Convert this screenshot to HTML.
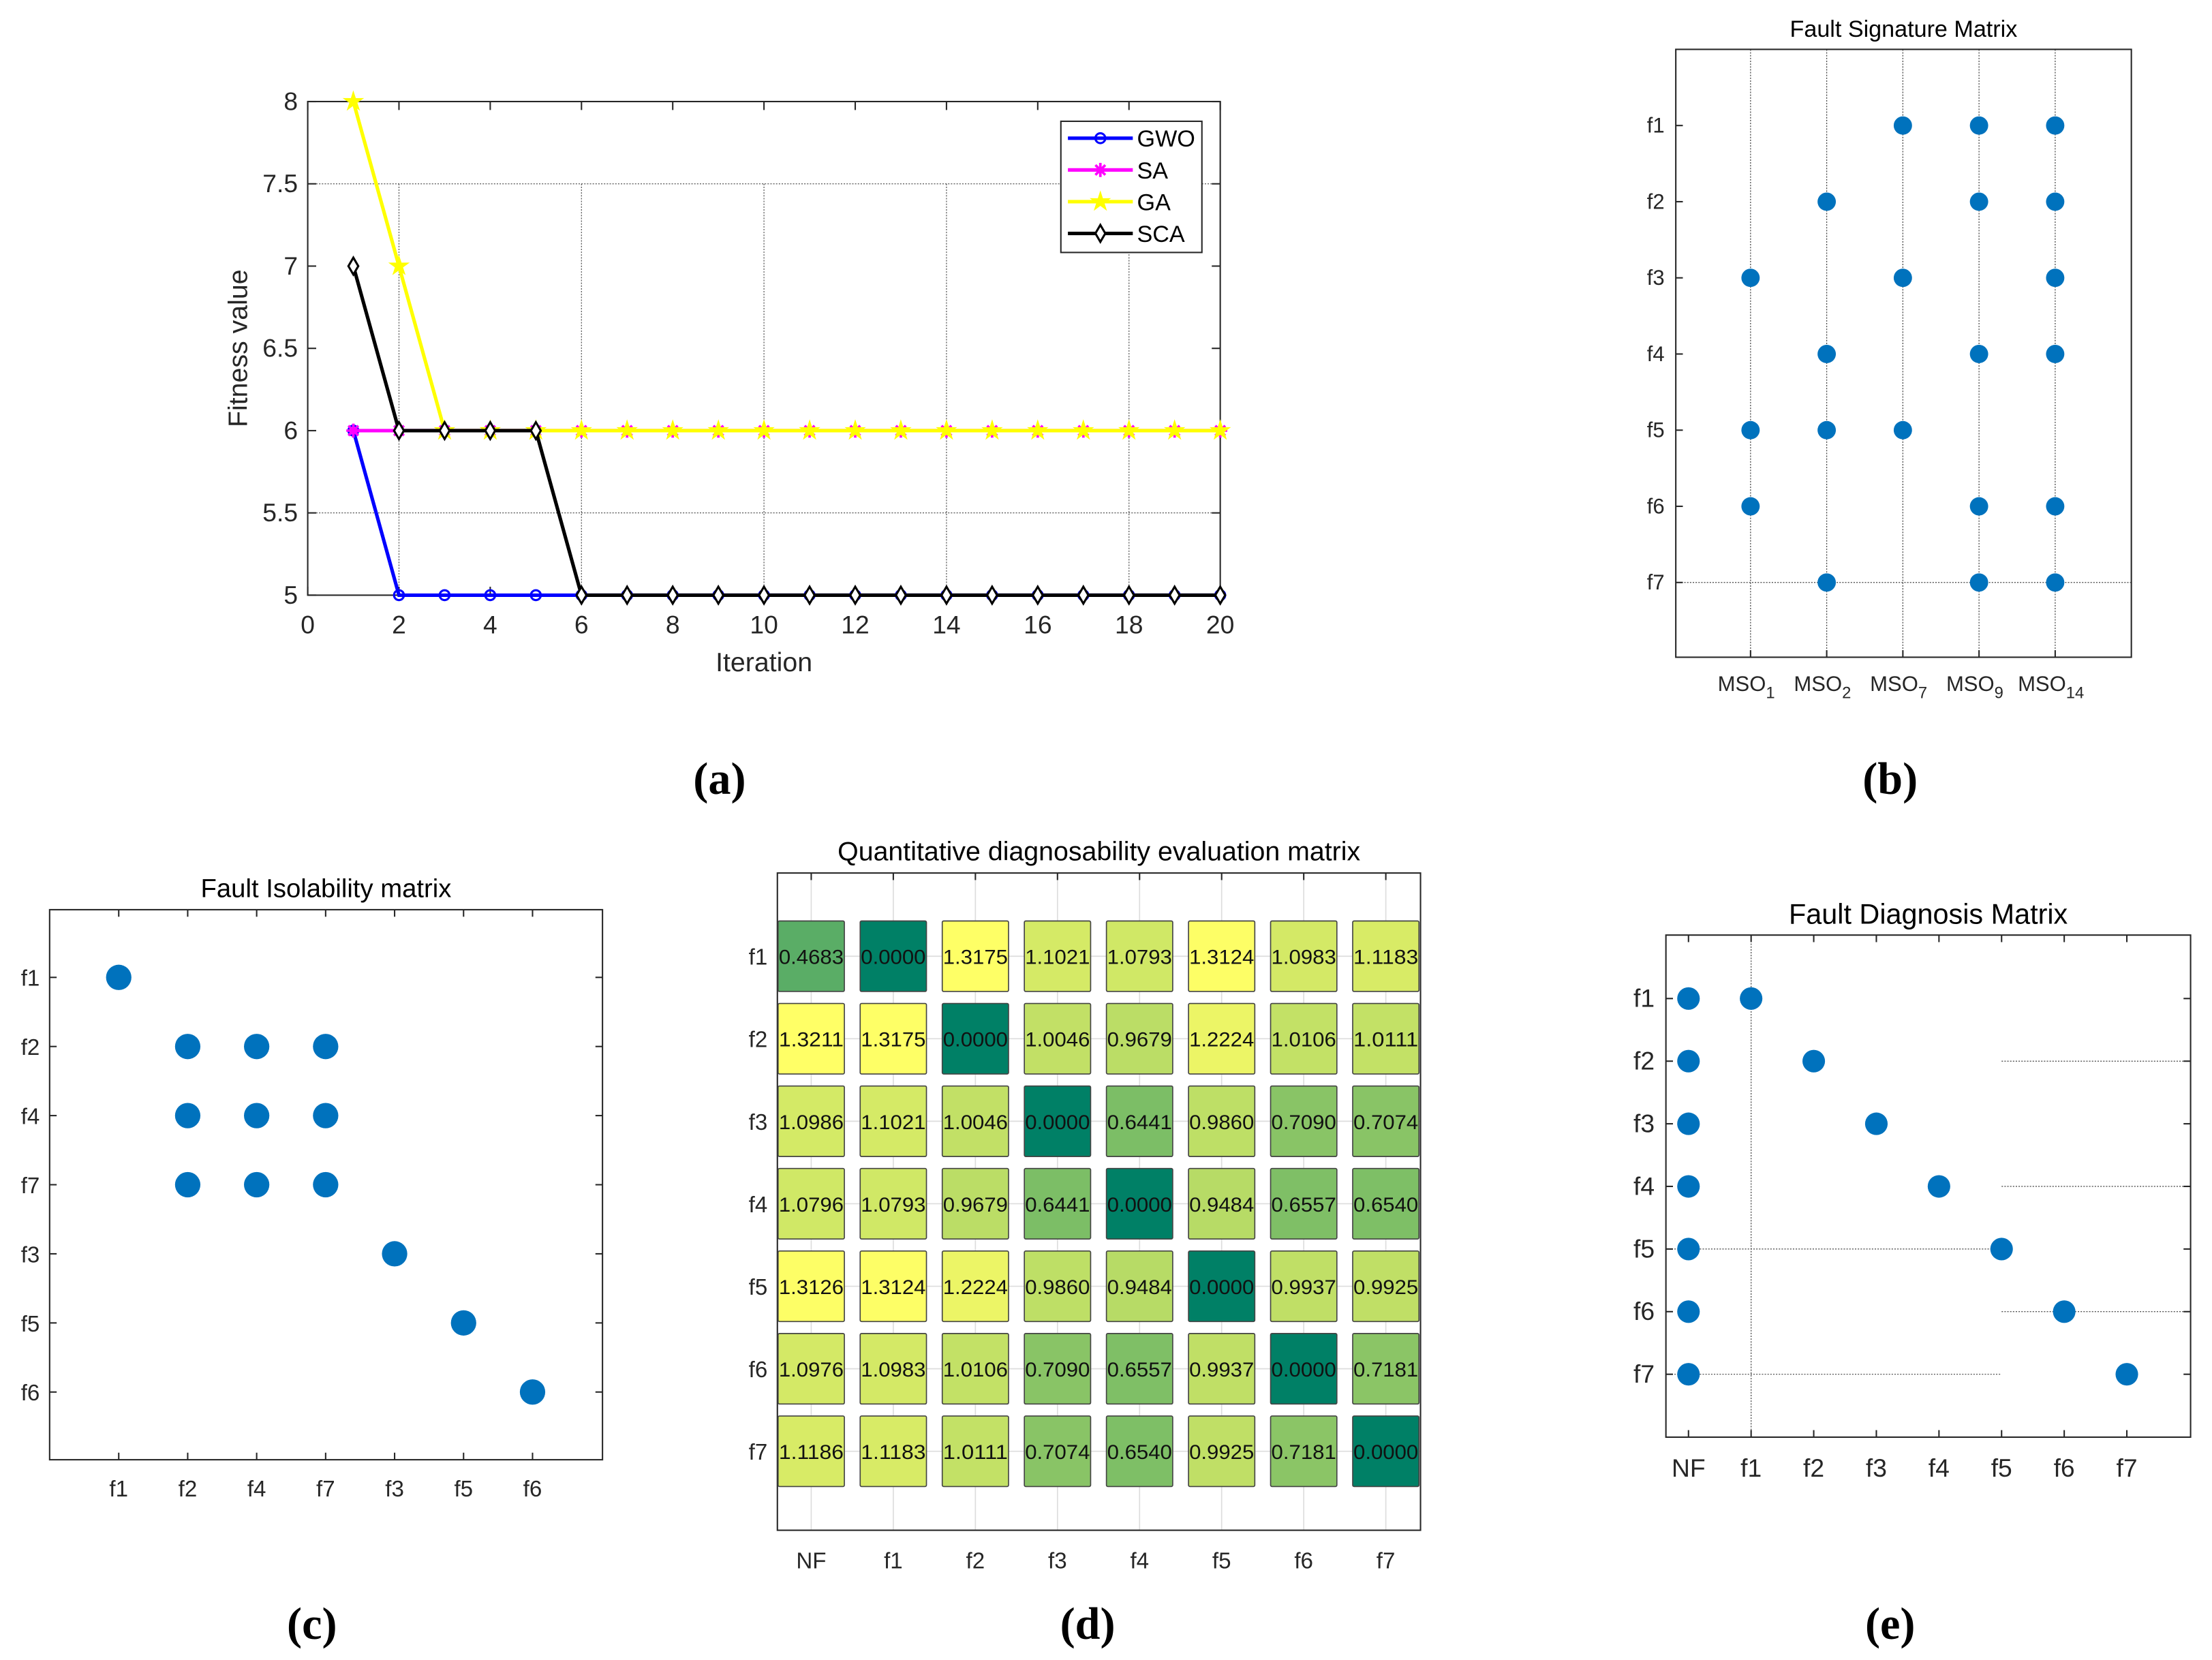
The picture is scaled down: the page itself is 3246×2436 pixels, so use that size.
<!DOCTYPE html>
<html><head><meta charset="utf-8">
<style>
html,body{margin:0;padding:0;background:#fff;}
svg{display:block;}
text{font-family:"Liberation Sans",Arial,sans-serif;fill:#262626;}
</style></head>
<body>
<svg id="fig" width="3246" height="2436" viewBox="0 0 1568 1177" xmlns="http://www.w3.org/2000/svg">
<rect width="1568" height="1177" fill="#fff"/>
<g id="pa"></g>
<g id="pb"></g>
<g id="pc"></g>
<g id="pd"></g>
<g id="pe"></g>
<text x="510" y="563" font-size="32" font-weight="bold" text-anchor="middle" style="font-family:'Liberation Serif',serif;fill:#000">(a)</text>
<text x="1340" y="563" font-size="32" font-weight="bold" text-anchor="middle" style="font-family:'Liberation Serif',serif;fill:#000">(b)</text>
<text x="221" y="1162" font-size="32" font-weight="bold" text-anchor="middle" style="font-family:'Liberation Serif',serif;fill:#000">(c)</text>
<text x="771" y="1162" font-size="32" font-weight="bold" text-anchor="middle" style="font-family:'Liberation Serif',serif;fill:#000">(d)</text>
<text x="1340" y="1162" font-size="32" font-weight="bold" text-anchor="middle" style="font-family:'Liberation Serif',serif;fill:#000">(e)</text>
</svg>
<script>
// ---------- Panel (a) data ----------
const iterations = [1,2,3,4,5,6,7,8,9,10,11,12,13,14,15,16,17,18,19,20];
const gwoValues = [6,5,5,5,5,5,5,5,5,5,5,5,5,5,5,5,5,5,5,5];
const saValues  = [6,6,6,6,6,6,6,6,6,6,6,6,6,6,6,6,6,6,6,6];
const gaValues  = [8,7,6,6,6,6,6,6,6,6,6,6,6,6,6,6,6,6,6,6];
const scaValues = [7,6,6,6,6,5,5,5,5,5,5,5,5,5,5,5,5,5,5,5];
const aXTicks = [0,2,4,6,8,10,12,14,16,18,20];
const aYTicks = [5,5.5,6,6.5,7,7.5,8];
const seriesNames = ["GWO","SA","GA","SCA"];
// ---------- Panel (b) data ----------
const bCols = ["MSO1","MSO2","MSO7","MSO9","MSO14"];
const bColSubs = ["1","2","7","9","14"];
const bRows = ["f1","f2","f3","f4","f5","f6","f7"];
const bDots = [["MSO1","f3"],["MSO1","f5"],["MSO1","f6"],
 ["MSO2","f2"],["MSO2","f4"],["MSO2","f5"],["MSO2","f7"],
 ["MSO7","f1"],["MSO7","f3"],["MSO7","f5"],
 ["MSO9","f1"],["MSO9","f2"],["MSO9","f4"],["MSO9","f6"],["MSO9","f7"],
 ["MSO14","f1"],["MSO14","f2"],["MSO14","f3"],["MSO14","f4"],["MSO14","f6"],["MSO14","f7"]];
// ---------- Panel (c) data ----------
const cCols = ["f1","f2","f4","f7","f3","f5","f6"];
const cRows = ["f1","f2","f4","f7","f3","f5","f6"];
const cDots = [["f1","f1"],["f2","f2"],["f4","f2"],["f7","f2"],["f2","f4"],["f4","f4"],["f7","f4"],
 ["f2","f7"],["f4","f7"],["f7","f7"],["f3","f3"],["f5","f5"],["f6","f6"]];
// ---------- Panel (d) data ----------
const dCols = ["NF","f1","f2","f3","f4","f5","f6","f7"];
const dRows = ["f1","f2","f3","f4","f5","f6","f7"];
const dRow1 = [0.4683,0.0000,1.3175,1.1021,1.0793,1.3124,1.0983,1.1183];
const dRow2 = [1.3211,1.3175,0.0000,1.0046,0.9679,1.2224,1.0106,1.0111];
const dRow3 = [1.0986,1.1021,1.0046,0.0000,0.6441,0.9860,0.7090,0.7074];
const dRow4 = [1.0796,1.0793,0.9679,0.6441,0.0000,0.9484,0.6557,0.6540];
const dRow5 = [1.3126,1.3124,1.2224,0.9860,0.9484,0.0000,0.9937,0.9925];
const dRow6 = [1.0976,1.0983,1.0106,0.7090,0.6557,0.9937,0.0000,0.7181];
const dRow7 = [1.1186,1.1183,1.0111,0.7074,0.6540,0.9925,0.7181,0.0000];
const dMatrix = [dRow1,dRow2,dRow3,dRow4,dRow5,dRow6,dRow7];
// ---------- Panel (e) data ----------
const eCols = ["NF","f1","f2","f3","f4","f5","f6","f7"];
const eRows = ["f1","f2","f3","f4","f5","f6","f7"];
const eDots = [["NF","f1"],["NF","f2"],["NF","f3"],["NF","f4"],["NF","f5"],["NF","f6"],["NF","f7"],
 ["f1","f1"],["f2","f2"],["f3","f3"],["f4","f4"],["f5","f5"],["f6","f6"],["f7","f7"]];

const NS="http://www.w3.org/2000/svg";
function mk(parent,tag,attrs,txt){const e=document.createElementNS(NS,tag);for(const k in attrs)e.setAttribute(k,attrs[k]);if(txt!==undefined)e.textContent=txt;parent.appendChild(e);return e;}
const DOT="#0072bd";

// ===== Panel A =====
(function(){
 const g=document.getElementById('pa');
 const L=218,R=865,T=72,B=422;
 const xs=v=>L+(v-0)/(20-0)*(R-L);
 const ys=v=>B-(v-5)/(8-5)*(B-T);
 [7.5,5.5].forEach(v=>{const l=mk(g,'line',{x1:L,x2:R,y1:ys(v),y2:ys(v),stroke:'#555','stroke-width':0.6,'stroke-dasharray':'1,1'});
 });
 [2,6,10,14,18].forEach(v=>{const l=mk(g,'line',{x1:xs(v),x2:xs(v),y1:ys(7.5),y2:B,stroke:'#555','stroke-width':0.6,'stroke-dasharray':'1,1'});
 });
 const box=mk(g,'rect',{x:L,y:T,width:R-L,height:B-T,fill:'none',stroke:'#262626','stroke-width':1});
 
 aXTicks.forEach(v=>{
  mk(g,'line',{x1:xs(v),x2:xs(v),y1:B,y2:B-6,stroke:'#262626'});mk(g,'line',{x1:xs(v),x2:xs(v),y1:T,y2:T+6,stroke:'#262626'});
  const t=mk(g,'text',{x:xs(v),y:B+27,'font-size':18,'text-anchor':'middle'},String(v));
  
 });
 aYTicks.forEach(v=>{
  mk(g,'line',{x1:L,x2:L+6,y1:ys(v),y2:ys(v),stroke:'#262626'});mk(g,'line',{x1:R,x2:R-6,y1:ys(v),y2:ys(v),stroke:'#262626'});
  const t=mk(g,'text',{x:L-7,y:ys(v)+6,'font-size':18,'text-anchor':'end'},String(v));
  
 });
 const xt=mk(g,'text',{x:(L+R)/2,y:476,'font-size':19,'text-anchor':'middle'},'Iteration');
 
 const yt=mk(g,'text',{x:175,y:(T+B)/2,'font-size':19,'text-anchor':'middle',transform:'rotate(-90 175 '+(T+B)/2+')'},'Fitness value');
 
 function marker(p,type,x,y,c){
  if(type==='o') mk(p,'circle',{cx:x,cy:y,r:3.5,fill:'none',stroke:c,'stroke-width':1.5});
  else if(type==='*'){mk(p,'path',{d:`M${x-5} ${y}H${x+5}M${x} ${y-5}V${y+5}M${x-3.5} ${y-3.5}L${x+3.5} ${y+3.5}M${x-3.5} ${y+3.5}L${x+3.5} ${y-3.5}`,stroke:c,'stroke-width':1.8});}
  else if(type==='p'){let pts=[];for(let i=0;i<10;i++){const r=i%2?3:8,a=-Math.PI/2+i*Math.PI/5;pts.push((x+r*Math.cos(a)).toFixed(1)+','+(y+r*Math.sin(a)).toFixed(1));}mk(p,'polygon',{points:pts.join(' '),fill:c});}
  else if(type==='d') mk(p,'polygon',{points:`${x},${y-6} ${x+3.5},${y} ${x},${y+6} ${x-3.5},${y}`,fill:'#fff',stroke:c,'stroke-width':1.5});
 }
 const series=[[gwoValues,'#0000ff','o'],[saValues,'#ff00ff','*'],[gaValues,'#ffff00','p'],[scaValues,'#000','d']];
 series.forEach((s,si)=>{
  const sg=mk(g,'g',{});
  
  const d=s[0].map((v,i)=>(i?'L':'M')+xs(iterations[i])+' '+ys(v)).join('');
  mk(sg,'path',{d:d,fill:'none',stroke:s[1],'stroke-width':2.5});
  s[0].forEach((v,i)=>marker(sg,s[2],xs(iterations[i]),ys(v),s[1]));
 });
 const lg=mk(g,'g',{});
 
 mk(lg,'rect',{x:752,y:86,width:100,height:93,fill:'#fff',stroke:'#262626','stroke-width':1});
 series.forEach((s,i)=>{
  const y=98+i*22.5;
  const e=mk(lg,'g',{});
  
  mk(e,'line',{x1:757,x2:803,y1:y,y2:y,stroke:s[1],'stroke-width':2.5});
  marker(e,s[2],780,y,s[1]);
  mk(e,'text',{x:806,y:y+6,'font-size':16.5,style:'fill:#000'},seriesNames[i]);
 });
})();

// ===== Panel B =====
(function(){
 const g=document.getElementById('pb');
 const L=1188,R=1511,T=35,B=466;
 const cx=i=>1241+i*54, ry=i=>89+i*54;
 const tt=mk(g,'text',{x:(L+R)/2,y:26,'font-size':16.5,'text-anchor':'middle',style:'fill:#000'},'Fault Signature Matrix');
 
 bCols.forEach((c,i)=>{const l=mk(g,'line',{x1:cx(i),x2:cx(i),y1:T,y2:B,stroke:'#444','stroke-width':0.6,'stroke-dasharray':'1,1'});
  });
 const hl=mk(g,'line',{x1:L,x2:R,y1:ry(6),y2:ry(6),stroke:'#444','stroke-width':0.6,'stroke-dasharray':'1,1'});
 
 const box=mk(g,'rect',{x:L,y:T,width:R-L,height:B-T,fill:'none',stroke:'#262626','stroke-width':1});
 
 bCols.forEach((c,i)=>{
  mk(g,'line',{x1:cx(i),x2:cx(i),y1:B,y2:B-5,stroke:'#262626'});
  const t=mk(g,'text',{x:cx(i)-3,y:490,'font-size':15,'text-anchor':'middle'});
  
  mk(t,'tspan',{},'MSO');mk(t,'tspan',{dy:5,'font-size':11.5},bColSubs[i]);
 });
 bRows.forEach((r,i)=>{
  mk(g,'line',{x1:L,x2:L+5,y1:ry(i),y2:ry(i),stroke:'#262626'});
  const t=mk(g,'text',{x:L-8,y:ry(i)+5,'font-size':15,'text-anchor':'end'},r);
  
 });
 bDots.forEach(d=>{const c=mk(g,'circle',{cx:cx(bCols.indexOf(d[0])),cy:ry(bRows.indexOf(d[1])),r:6.5,fill:DOT});
  });
})();

// ===== Panel C =====
(function(){
 const g=document.getElementById('pc');
 const L=35,R=427,T=645,B=1035;
 const cx=i=>84+i*48.9, ry=i=>693+i*49;
 const tt=mk(g,'text',{x:(L+R)/2,y:636,'font-size':18.5,'text-anchor':'middle',style:'fill:#000'},'Fault Isolability matrix');
 
 const box=mk(g,'rect',{x:L,y:T,width:R-L,height:B-T,fill:'none',stroke:'#262626','stroke-width':1});
 
 cCols.forEach((c,i)=>{
  mk(g,'line',{x1:cx(i),x2:cx(i),y1:B,y2:B-5,stroke:'#262626'});mk(g,'line',{x1:cx(i),x2:cx(i),y1:T,y2:T+5,stroke:'#262626'});
  const t=mk(g,'text',{x:cx(i),y:1061,'font-size':16,'text-anchor':'middle'},c);
  
 });
 cRows.forEach((r,i)=>{
  mk(g,'line',{x1:L,x2:L+5,y1:ry(i),y2:ry(i),stroke:'#262626'});mk(g,'line',{x1:R,x2:R-5,y1:ry(i),y2:ry(i),stroke:'#262626'});
  const t=mk(g,'text',{x:L-7,y:ry(i)+6,'font-size':16,'text-anchor':'end'},r);
  
 });
 cDots.forEach(d=>{const c=mk(g,'circle',{cx:cx(cCols.indexOf(d[0])),cy:ry(cRows.indexOf(d[1])),r:9,fill:DOT});
  });
})();

// ===== Panel D =====
(function(){
 const g=document.getElementById('pd');
 const L=551,R=1007,T=619,B=1085;
 const cx=i=>575+i*58.2, ry=i=>678+i*58.5;
 let mx=0;dMatrix.forEach(r=>r.forEach(v=>{if(v>mx)mx=v;}));
 function col(v){const t=v/mx;const r=Math.round(255*t),gg=Math.round(255*(0.5+t/2)),b=Math.round(255*0.4);return `rgb(${r},${gg},${b})`;}
 const tt=mk(g,'text',{x:779,y:610,'font-size':19,'text-anchor':'middle',style:'fill:#000'},'Quantitative diagnosability evaluation matrix');
 
 dCols.forEach((c,i)=>mk(g,'line',{x1:cx(i),x2:cx(i),y1:T,y2:B,stroke:'#ddd','stroke-width':0.8}));
 dRows.forEach((r,i)=>mk(g,'line',{x1:L,x2:R,y1:ry(i),y2:ry(i),stroke:'#ddd','stroke-width':0.8}));
 const box=mk(g,'rect',{x:L,y:T,width:R-L,height:B-T,fill:'none',stroke:'#262626','stroke-width':1});
 
 dCols.forEach((c,i)=>{
  mk(g,'line',{x1:cx(i),x2:cx(i),y1:T,y2:T+5,stroke:'#262626'});
  const t=mk(g,'text',{x:cx(i),y:1112,'font-size':16,'text-anchor':'middle'},c);
  
 });
 dRows.forEach((r,i)=>{
  const t=mk(g,'text',{x:L-7,y:ry(i)+6,'font-size':16,'text-anchor':'end'},r);
  
 });
 dMatrix.forEach((row,ri)=>row.forEach((v,ci)=>{
  const cell=mk(g,'g',{});
  
  mk(cell,'rect',{x:cx(ci)-23.5,y:ry(ri)-25,width:47,height:50,fill:col(v),stroke:'#444','stroke-width':0.8,rx:1});
  mk(cell,'text',{x:cx(ci),y:ry(ri)+5.5,'font-size':14.5,'text-anchor':'middle',textLength:46,lengthAdjust:'spacingAndGlyphs',style:'fill:#111'},v.toFixed(4));
 }));
})();

// ===== Panel E =====
(function(){
 const g=document.getElementById('pe');
 const L=1181,R=1553,T=663,B=1019;
 const cx=i=>1197+i*44.4, ry=i=>708+i*44.4;
 const tt=mk(g,'text',{x:(L+R)/2,y:655,'font-size':20,'text-anchor':'middle',style:'fill:#000'},'Fault Diagnosis Matrix');
 
 const gl=[[cx(1),T,cx(1),B],[L,ry(4),cx(5),ry(4)],[L,ry(6),cx(5),ry(6)],[cx(5),ry(1),R,ry(1)],[cx(5),ry(3),R,ry(3)],[cx(5),ry(5),R,ry(5)]];
 gl.forEach(a=>{const l=mk(g,'line',{x1:a[0],y1:a[1],x2:a[2],y2:a[3],stroke:'#444','stroke-width':0.6,'stroke-dasharray':'1,1'});
  });
 const box=mk(g,'rect',{x:L,y:T,width:R-L,height:B-T,fill:'none',stroke:'#262626','stroke-width':1});
 
 eCols.forEach((c,i)=>{
  mk(g,'line',{x1:cx(i),x2:cx(i),y1:B,y2:B-5,stroke:'#262626'});mk(g,'line',{x1:cx(i),x2:cx(i),y1:T,y2:T+5,stroke:'#262626'});
  const t=mk(g,'text',{x:cx(i),y:1047,'font-size':18,'text-anchor':'middle'},c);
  
 });
 eRows.forEach((r,i)=>{
  mk(g,'line',{x1:L,x2:L+5,y1:ry(i),y2:ry(i),stroke:'#262626'});mk(g,'line',{x1:R,x2:R-5,y1:ry(i),y2:ry(i),stroke:'#262626'});
  const t=mk(g,'text',{x:L-8,y:ry(i)+6,'font-size':18,'text-anchor':'end'},r);
  
 });
 eDots.forEach(d=>{const c=mk(g,'circle',{cx:cx(eCols.indexOf(d[0])),cy:ry(eRows.indexOf(d[1])),r:8,fill:DOT});
  });
})();
</script>
</body></html>
